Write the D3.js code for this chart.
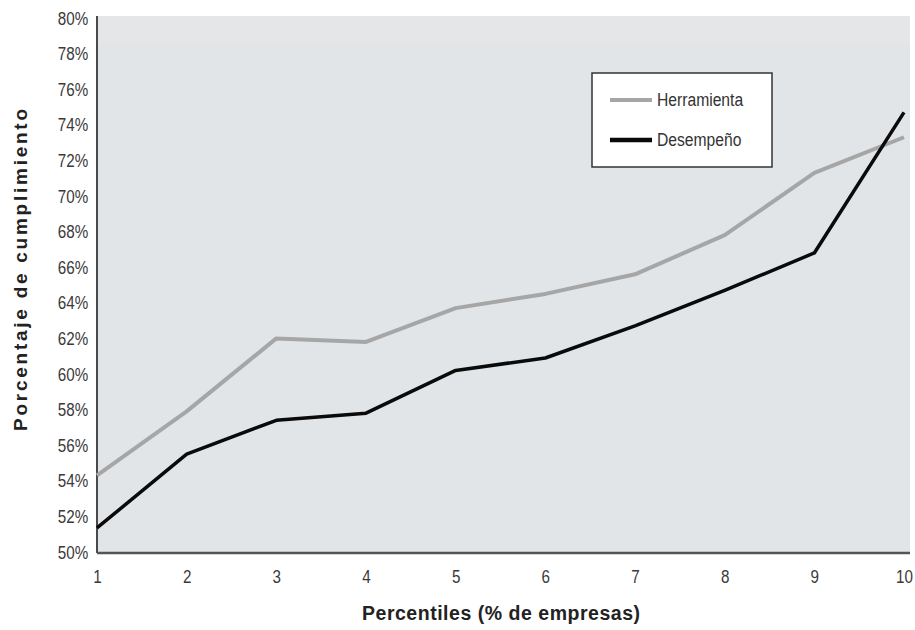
<!DOCTYPE html>
<html>
<head>
<meta charset="utf-8">
<script src="https://cdn.jsdelivr.net/npm/d3@7"></script>
<style>
  html, body { margin: 0; padding: 0; background: #ffffff; }
  svg { display: block; }
  .tick text { font-family: "Liberation Sans", Arial, sans-serif; fill: #3a3a3a; }
</style>
</head>
<body>
<svg id="chart" width="915" height="630"></svg>
<script>
const percentiles = [1, 2, 3, 4, 5, 6, 7, 8, 9, 10];
const herramienta = [54.3, 57.9, 62.0, 61.8, 63.7, 64.5, 65.6, 67.8, 71.3, 73.3];
const desempeno   = [51.35, 55.5, 57.4, 57.8, 60.2, 60.9, 62.7, 64.7, 66.8, 74.7];
const yTicks = [50, 52, 54, 56, 58, 60, 62, 64, 66, 68, 70, 72, 74, 76, 78, 80];
const seriesNames = ["Herramienta", "Desempeño"];
const xTitle = "Percentiles (% de empresas)";
const yTitle = "Porcentaje de cumplimiento";

const svg = d3.select("#chart");
const mLeft = 97, mRight = 910, mTop = 16, mBottom = 552;

const x = d3.scaleLinear().domain([1, 10]).range([mLeft, 904]);
const y = d3.scaleLinear().domain([50, 80]).range([mBottom, 18]);

// plot background
svg.append("rect").attr("x", mLeft).attr("y", mTop).attr("width", mRight - mLeft).attr("height", mBottom - mTop)
  .attr("fill", "#e2e5e8");
svg.append("rect").attr("x", mLeft).attr("y", mTop).attr("width", mRight - mLeft).attr("height", 28)
  .attr("fill", "#e5e6e7");

// axes
const xAxis = d3.axisBottom(x).tickValues(percentiles).tickSize(0).tickPadding(18).tickFormat(d3.format("d"));
const gx = svg.append("g").attr("transform", `translate(0,${mBottom})`).call(xAxis);
gx.select(".domain").remove();
gx.selectAll(".tick text").attr("font-size", 19).attr("transform", "scale(0.8,1)");

const yAxis = d3.axisLeft(y).tickValues(yTicks).tickSize(0).tickPadding(11).tickFormat(d => d + "%");
const gy = svg.append("g").attr("transform", `translate(${mLeft},0)`).call(yAxis);
gy.select(".domain").remove();
gy.selectAll(".tick text").attr("font-size", 19).attr("transform", "scale(0.8,1)");

svg.append("line").attr("x1", mLeft).attr("x2", mLeft).attr("y1", mTop).attr("y2", mBottom + 1)
  .attr("stroke", "#4a4a4a").attr("stroke-width", 2);
svg.append("line").attr("x1", mLeft).attr("x2", mRight).attr("y1", mBottom + 1).attr("y2", mBottom + 1)
  .attr("stroke", "#555").attr("stroke-width", 2.5);

// lines
const line = d3.line().x((d, i) => x(percentiles[i])).y(d => y(d));
svg.append("path").datum(herramienta).attr("d", line).attr("fill", "none")
  .attr("stroke", "#a6a6a6").attr("stroke-width", 4).attr("stroke-linejoin", "round");
svg.append("path").datum(desempeno).attr("d", line).attr("fill", "none")
  .attr("stroke", "#0a0a0a").attr("stroke-width", 3.5).attr("stroke-linejoin", "round");

// legend
const lg = svg.append("g");
lg.append("rect").attr("x", 592).attr("y", 73).attr("width", 180).attr("height", 94)
  .attr("fill", "#ffffff").attr("stroke", "#333").attr("stroke-width", 1.5);
const legendColors = ["#a6a6a6", "#0a0a0a"];
seriesNames.forEach((name, i) => {
  const ly = 100 + i * 40;
  lg.append("line").attr("x1", 610).attr("x2", 652).attr("y1", ly).attr("y2", ly)
    .attr("stroke", legendColors[i]).attr("stroke-width", i === 0 ? 4 : 4.5);
  lg.append("text").attr("transform", `translate(657,${ly + 6}) scale(0.87,1)`).text(name)
    .attr("font-family", '"Liberation Sans", Arial, sans-serif')
    .attr("font-size", 18).attr("fill", "#333");
});

// titles
svg.append("text").attr("x", 501).attr("y", 620).attr("text-anchor", "middle")
  .attr("font-family", '"Liberation Sans", Arial, sans-serif').attr("font-weight", "bold")
  .attr("font-size", 19.5).attr("fill", "#222")
  .attr("textLength", 278).attr("lengthAdjust", "spacing").text(xTitle);
svg.append("text").attr("transform", "translate(27,270) rotate(-90)").attr("text-anchor", "middle")
  .attr("font-family", '"Liberation Sans", Arial, sans-serif').attr("font-weight", "bold")
  .attr("font-size", 19).attr("fill", "#222")
  .attr("textLength", 322).attr("lengthAdjust", "spacing").text(yTitle);
</script>
</body>
</html>
